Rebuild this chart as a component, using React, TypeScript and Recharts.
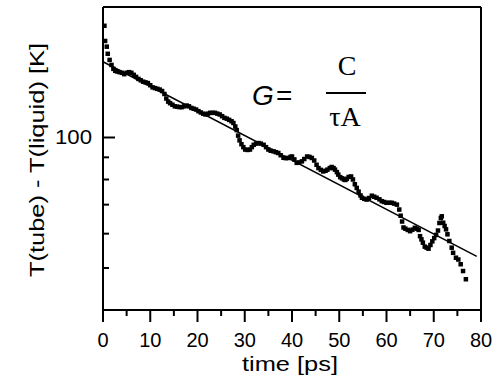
import React from "react";
import { ScatterChart, Scatter, XAxis, YAxis, ReferenceLine } from "recharts";

// --- Data ---

const timePs = [
  0.3, 0.45, 0.8, 1.0, 1.4, 1.8, 2.2, 2.6, 3.0, 3.5, 4.0, 4.5, 5.0, 5.5, 6.0, 6.5, 7.0, 7.5, 8.0, 8.5,
  9.0, 9.5, 10.0, 10.5, 11.0, 11.5, 12.0, 12.5, 13.0, 13.4, 13.8, 14.2, 14.7, 15.2, 15.7, 16.2, 16.7, 17.2, 17.7, 18.2,
  18.7, 19.2, 19.7, 20.2, 20.7, 21.2, 21.7, 22.2, 22.7, 23.2, 23.7, 24.2, 24.7, 25.2, 25.7, 26.2, 26.7, 27.2, 27.6, 28.0,
  28.3, 28.6, 28.9, 29.3, 29.7, 30.1, 30.6, 31.1, 31.5, 31.9, 32.4, 32.9, 33.4, 34.0, 34.5, 35.0, 35.5, 36.1, 36.6, 37.1,
  37.6, 38.2, 38.7, 39.2, 39.7, 40.0, 40.5, 41.0, 41.5, 42.1, 42.6, 43.2, 43.7, 44.2, 44.7, 45.2, 45.6, 46.1, 46.6, 47.1,
  47.5, 48.0, 48.4, 48.8, 49.1, 49.5, 49.8, 50.2, 50.6, 51.0, 51.3, 51.6, 52.0, 52.5, 52.9, 53.3, 53.7, 54.1, 54.5, 54.8,
  55.3, 55.8, 56.3, 56.9, 57.4, 57.9, 58.5, 59.0, 59.5, 60.0, 60.6, 61.1, 61.6, 62.2, 62.7, 63.0, 63.3, 63.6, 64.0, 64.5,
  65.0, 65.5, 66.0, 66.5, 66.8, 67.1, 67.4, 67.7, 68.1, 68.5, 68.9, 69.3, 69.7, 70.1, 70.5, 70.9, 71.2, 71.5, 71.7, 72.0,
  72.3, 72.6, 72.9, 73.3, 73.8, 74.1, 74.7, 75.2, 75.7, 76.2, 76.8,
];

const deltaT = [
  181, 167, 162, 156, 151, 147, 144, 142.5, 142, 141.5, 141, 140, 141, 141.5, 141, 139.5, 138, 136.5, 135.5, 134.5,
  134, 133.5, 132, 130.5, 130, 129.5, 129, 128, 126, 123, 121, 120, 119, 118, 117.8, 117.5, 117.5, 118, 118.5, 118,
  117, 116.5, 116, 115, 114.2, 113.5, 113, 113.5, 114, 114, 114, 113.5, 113, 112, 111, 110.5, 109.8, 109, 108, 106,
  104, 101, 98.5, 96.5, 95, 93.8, 93.6, 93.8, 95, 96.2, 96.8, 97.1, 96.8, 96.2, 95, 93.8, 93.2, 92.9, 92.5, 92.1,
  91, 89.8, 89.6, 89.7, 90.2, 90.4, 89, 87.4, 87.6, 88.1, 89.2, 90.4, 90.2, 89.7, 88.5, 86.5, 85, 84.2, 83.5, 83.8,
  84.3, 85, 85.5, 85, 84.3, 83.2, 82.1, 81, 80.5, 80, 79.8, 80.3, 81.1, 81.3, 80, 78, 76.5, 75, 73.5, 72.6,
  72.2, 71.9, 72.5, 73.4, 73, 72.6, 72, 71.3, 71, 70.7, 70.7, 70.7, 70.4, 70, 68.2, 66, 64, 62, 61.6, 61.2,
  60.8, 61.3, 61.9, 61.6, 61.2, 59.2, 58.2, 57.2, 56, 55.7, 55.4, 56.5, 57.6, 58.6, 59.6, 61, 63.5, 65.2, 65.8, 63.6,
  62.5, 61.4, 59.8, 57.7, 55.7, 54.2, 52.8, 52.3, 51, 49.2, 47.1,
];

// exponential fit, straight on the log axis
const fitTime = [0, 79.1];
const fitDeltaT = [149.5, 53.2];

const xTicks = [0, 5, 10, 15, 20, 25, 30, 35, 40, 45, 50, 55, 60, 65, 70, 75, 80];
const yTicks = [50, 60, 70, 80, 90, 100];
const yLabelled = [100];

const points = timePs.map((t, i) => ({ t, v: deltaT[i] }));
const fit = fitTime.map((t, i) => ({ t, v: fitDeltaT[i] }));

const SANS = '"Liberation Sans", Arial, sans-serif';
const SERIF = '"Liberation Serif", "Times New Roman", serif';

// --- Ticks ---

const XTick = ({ x, y, payload }: any) => {
  const major = payload.value % 10 === 0;
  return (
    <g>
      <line x1={x} x2={x} y1={y} y2={y + (major ? 12 : 6)} stroke="#000" strokeWidth={2} />
      {major && (
        <text x={x} y={y + 37} textAnchor="middle" fontSize={20} fontFamily={SANS} fill="#000">
          {payload.value}
        </text>
      )}
    </g>
  );
};

const YTick = ({ x, y, payload }: any) => {
  const major = yLabelled.includes(payload.value);
  return (
    <g>
      <line x1={x} x2={x + (major ? 12 : 6)} y1={y} y2={y} stroke="#000" strokeWidth={2} />
      {major && (
        <text x={x - 11} y={y + 7} textAnchor="end" fontSize={20} fontFamily={SANS} fill="#000"
          textLength={37} lengthAdjust="spacingAndGlyphs">
          {payload.value}
        </text>
      )}
    </g>
  );
};

const Square = ({ cx, cy }: any) => <rect x={cx - 2.25} y={cy - 2.25} width={4.5} height={4.5} fill="#000" />;

export default function App() {
  return (
    <div style={{ position: "absolute", left: 0, top: 0, width: 493, height: 381, background: "#fff" }}>
      <ScatterChart width={493} height={381} margin={{ top: 7, right: 12, bottom: 31, left: 43 }}>
        <XAxis type="number" dataKey="t" domain={[0, 80]} ticks={xTicks} interval={0}
          tick={<XTick />} tickLine={false} tickSize={0} tickMargin={0} height={40}
          axisLine={{ stroke: "#000", strokeWidth: 2 }} />
        <YAxis type="number" dataKey="v" scale="log" domain={[40, 200]} allowDataOverflow ticks={yTicks} interval={0}
          tick={<YTick />} tickLine={false} tickSize={0} tickMargin={0} width={60}
          axisLine={{ stroke: "#000", strokeWidth: 2 }} />
        <ReferenceLine y={200} stroke="#000" strokeWidth={2} />
        <ReferenceLine x={80} stroke="#000" strokeWidth={2} />
        <Scatter data={points} shape={<Square />} isAnimationActive={false} />
        <Scatter data={fit} line={{ stroke: "#000", strokeWidth: 1.5 }} shape={() => <g />} isAnimationActive={false} />
      </ScatterChart>
      <svg width={493} height={381} style={{ position: "absolute", left: 0, top: 0, pointerEvents: "none" }}>
        <text transform="translate(44,160) rotate(-90)" textAnchor="middle" fontSize={20} fontFamily={SANS}
          fill="#000" textLength={234} lengthAdjust="spacingAndGlyphs">
          T(tube) - T(liquid) [K]
        </text>
        <text x={290} y={371} textAnchor="middle" fontSize={20} fontFamily={SANS} fill="#000"
          textLength={96} lengthAdjust="spacingAndGlyphs">
          time [ps]
        </text>
        <text x={252} y={105} fontSize={28} fontFamily={SANS} fontStyle="italic" fill="#000">G</text>
        <text x={276} y={105} fontSize={28} fontFamily={SANS} fill="#000">=</text>
        <text x={347} y={75} textAnchor="middle" fontSize={28} fontFamily={SERIF} fill="#000">C</text>
        <line x1={326} x2={366} y1={93} y2={93} stroke="#000" strokeWidth={2} />
        <text x={345} y={126} textAnchor="middle" fontSize={28} fontFamily={SERIF} fill="#000">τA</text>
      </svg>
    </div>
  );
}
